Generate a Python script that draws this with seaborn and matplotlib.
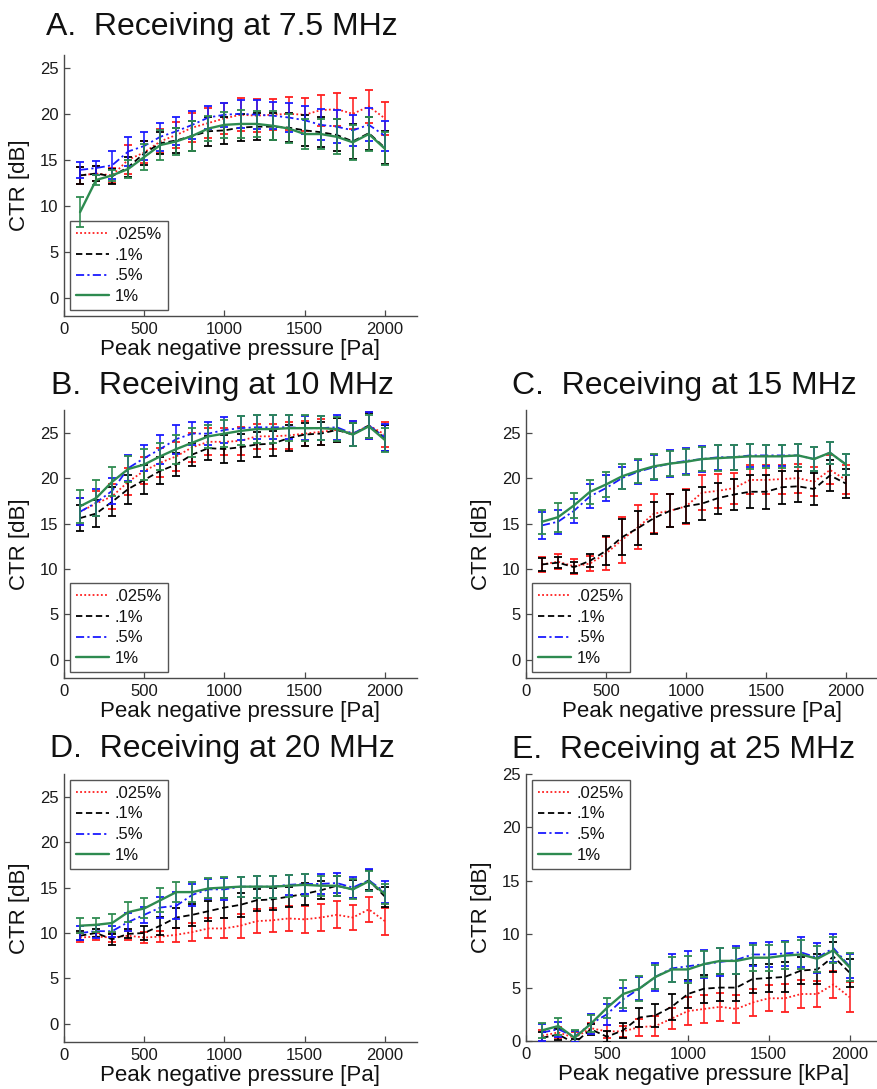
import matplotlib
matplotlib.use("Agg")
import matplotlib.pyplot as plt
import pandas as pd
import seaborn as sns

# Peak negative pressure steps
pressure = [100, 200, 300, 400, 500, 600, 700, 800, 900, 1000,
            1100, 1200, 1300, 1400, 1500, 1600, 1700, 1800, 1900, 2000]
concentrations = [".025%", ".1%", ".5%", "1%"]

# A. 7.5 MHz receive
A_CTR = {
    ".025%": [13.3, 13.5, 13.3, 15.0, 15.8, 17.0, 17.7, 18.5, 19.0, 19.5,
              19.9, 19.8, 19.9, 20.0, 19.9, 20.4, 20.5, 20.0, 20.8, 19.5],
    ".1%":   [13.3, 13.5, 13.2, 14.2, 15.7, 16.8, 17.1, 17.6, 18.1, 18.2,
              18.5, 18.6, 18.6, 18.5, 18.2, 18.0, 17.7, 17.0, 17.9, 16.3],
    ".5%":   [13.9, 14.1, 14.4, 15.9, 16.5, 17.5, 18.1, 18.8, 19.6, 19.9,
              20.0, 19.9, 19.8, 19.6, 19.3, 18.8, 18.6, 18.2, 18.8, 17.6],
    "1%":    [9.3, 12.8, 13.3, 14.0, 15.3, 16.6, 17.0, 17.6, 18.4, 18.8,
              18.9, 18.9, 18.7, 18.4, 17.8, 17.8, 17.5, 16.9, 17.8, 16.2],
}
A_ERR = {
    ".025%": [0.9, 0.8, 0.8, 1.6, 1.2, 1.3, 1.4, 1.6, 1.6, 1.7,
              1.8, 1.8, 1.7, 1.8, 1.8, 1.7, 1.8, 1.7, 1.8, 1.8],
    ".1%":   [0.9, 0.8, 0.8, 1.1, 1.3, 1.2, 1.4, 1.6, 1.6, 1.5,
              1.5, 1.5, 1.5, 1.6, 1.7, 1.6, 1.7, 1.9, 1.8, 1.8],
    ".5%":   [0.9, 0.8, 1.5, 1.6, 1.5, 1.5, 1.5, 1.5, 1.3, 1.3,
              1.5, 1.6, 1.5, 1.6, 1.5, 1.7, 1.8, 1.7, 1.8, 1.6],
    "1%":    [1.6, 0.5, 0.6, 1.0, 1.4, 1.6, 1.5, 1.6, 1.4, 1.4,
              1.5, 1.4, 1.6, 1.6, 1.6, 1.6, 1.9, 1.9, 1.8, 1.8],
}

# B. 10 MHz receive
B_CTR = {
    ".025%": [16.3, 17.2, 18.0, 19.6, 20.8, 21.7, 22.4, 23.4, 24.0, 24.0,
              24.1, 24.6, 24.6, 24.7, 24.9, 25.1, 25.3, 24.9, 25.8, 24.8],
    ".1%":   [15.6, 16.1, 17.4, 18.8, 19.8, 20.8, 21.5, 22.6, 23.3, 23.2,
              23.4, 23.7, 23.8, 24.4, 24.8, 24.9, 25.3, 24.8, 25.8, 24.4],
    ".5%":   [16.3, 17.3, 18.6, 21.1, 22.2, 23.2, 24.3, 24.9, 24.9, 25.3,
              25.5, 25.6, 25.6, 25.6, 25.5, 25.5, 25.6, 24.9, 25.8, 24.5],
    "1%":    [16.9, 17.8, 19.6, 21.0, 21.5, 22.4, 23.2, 23.9, 24.6, 24.9,
              25.2, 25.4, 25.4, 25.5, 25.5, 25.5, 25.4, 24.8, 25.7, 24.2],
}
B_ERR = {
    ".025%": [1.5, 1.4, 1.4, 1.5, 1.5, 1.6, 1.6, 1.6, 1.5, 1.5,
              1.5, 1.4, 1.4, 1.5, 1.4, 1.4, 1.3, 1.4, 1.5, 1.4],
    ".1%":   [1.4, 1.5, 1.6, 1.6, 1.6, 1.5, 1.3, 1.3, 1.3, 1.5,
              1.5, 1.4, 1.4, 1.4, 1.3, 1.3, 1.3, 1.3, 1.4, 1.4],
    ".5%":   [1.5, 1.5, 1.4, 1.4, 1.4, 1.6, 1.6, 1.3, 1.3, 1.4,
              1.3, 1.3, 1.3, 1.3, 1.3, 1.3, 1.4, 1.4, 1.5, 1.5],
    "1%":    [1.8, 2.0, 1.6, 1.4, 1.7, 1.5, 1.6, 1.6, 1.3, 1.5,
              1.6, 1.5, 1.5, 1.4, 1.4, 1.3, 1.3, 1.3, 1.3, 1.3],
}

# C. 15 MHz receive
C_CTR = {
    ".025%": [10.5, 10.8, 10.3, 10.6, 11.7, 13.2, 14.6, 16.1, 16.4, 16.9,
              18.4, 18.6, 18.9, 19.8, 19.8, 19.9, 20.0, 19.6, 20.9, 19.8],
    ".1%":   [10.5, 10.7, 10.2, 10.9, 12.0, 13.5, 14.5, 15.6, 16.4, 16.9,
              17.2, 17.8, 18.2, 18.5, 18.5, 19.0, 19.1, 18.8, 20.3, 19.4],
    ".5%":   [14.8, 15.2, 16.4, 18.0, 18.9, 20.0, 20.7, 21.2, 21.6, 21.9,
              22.1, 22.3, 22.3, 22.5, 22.5, 22.5, 22.5, 22.1, 22.8, 21.5],
    "1%":    [15.2, 15.7, 17.0, 18.5, 19.3, 20.2, 20.8, 21.3, 21.6, 21.8,
              22.1, 22.2, 22.3, 22.4, 22.4, 22.4, 22.5, 22.1, 22.8, 21.5],
}
C_ERR = {
    ".025%": [0.8, 0.8, 0.8, 0.8, 1.8, 2.5, 2.4, 2.1, 1.8, 1.9,
              1.9, 1.9, 1.7, 1.6, 1.6, 1.6, 1.6, 1.6, 1.6, 1.6],
    ".1%":   [0.7, 0.6, 0.6, 0.7, 1.6, 2.0, 1.9, 1.8, 1.8, 1.8,
              1.8, 1.7, 1.7, 1.8, 1.9, 1.8, 1.7, 1.8, 1.7, 1.6],
    ".5%":   [1.5, 1.3, 1.3, 1.3, 1.4, 1.2, 1.3, 1.4, 1.5, 1.4,
              1.4, 1.4, 1.4, 1.3, 1.2, 1.2, 1.3, 1.3, 1.2, 1.2],
    "1%":    [1.3, 1.6, 1.4, 1.3, 1.4, 1.4, 1.3, 1.4, 1.4, 1.4,
              1.3, 1.4, 1.4, 1.4, 1.3, 1.3, 1.3, 1.3, 1.2, 1.2],
}

# D. 20 MHz receive
D_CTR = {
    ".025%": [9.5, 9.6, 9.5, 9.7, 9.5, 9.6, 9.8, 10.1, 10.5, 10.5,
              10.8, 11.3, 11.4, 11.6, 11.5, 11.7, 12.0, 11.7, 12.6, 11.3],
    ".1%":   [9.7, 10.0, 9.3, 9.9, 10.0, 10.8, 11.7, 12.0, 12.4, 12.8,
              13.1, 13.6, 13.7, 14.0, 14.3, 14.7, 15.2, 14.8, 15.8, 14.0],
    ".5%":   [10.0, 10.2, 10.2, 11.2, 12.0, 12.8, 13.0, 14.2, 14.8, 14.8,
              15.1, 15.1, 15.1, 15.3, 15.4, 15.4, 15.5, 15.0, 15.8, 14.5],
    "1%":    [10.8, 10.9, 11.1, 12.3, 12.7, 13.6, 14.5, 14.5, 14.9, 15.0,
              15.1, 15.1, 15.1, 15.2, 15.3, 15.2, 15.2, 14.8, 15.7, 14.3],
}
D_ERR = {
    ".025%": [0.5, 0.4, 0.5, 0.5, 0.6, 0.6, 0.8, 1.0, 1.1, 1.1,
              1.3, 1.3, 1.3, 1.4, 1.5, 1.5, 1.5, 1.4, 1.4, 1.5],
    ".1%":   [0.5, 0.4, 0.6, 0.5, 0.8, 1.0, 1.1, 1.2, 1.1, 1.1,
              1.3, 1.2, 1.2, 1.1, 1.2, 1.0, 1.1, 1.0, 1.1, 1.1],
    ".5%":   [0.8, 0.7, 0.6, 1.0, 0.9, 1.2, 1.5, 1.2, 1.1, 1.2,
              1.1, 1.2, 1.2, 1.1, 1.1, 1.1, 1.1, 1.2, 1.2, 1.2],
    "1%":    [0.8, 0.8, 1.0, 1.1, 1.1, 1.3, 1.1, 1.1, 1.1, 1.2,
              1.1, 1.2, 1.2, 1.2, 1.2, 1.1, 1.1, 1.1, 1.1, 1.1],
}

# E. 25 MHz receive
E_CTR = {
    ".025%": [0.5, 0.8, 0.3, 1.2, 0.9, 0.9, 1.3, 1.4, 2.1, 2.8,
              3.0, 3.2, 3.0, 3.6, 4.0, 4.0, 4.4, 4.4, 5.3, 4.1],
    ".1%":   [0.3, 0.6, -0.2, 1.1, 0.4, 1.0, 2.2, 2.4, 3.2, 4.4,
              4.9, 5.0, 5.0, 5.8, 5.9, 6.0, 6.6, 6.7, 7.9, 6.4],
    ".5%":   [0.8, 1.1, 0.4, 1.6, 2.5, 3.9, 4.9, 6.0, 6.8, 7.0,
              7.2, 7.4, 7.6, 8.1, 8.1, 8.2, 8.3, 7.8, 8.7, 7.0],
    "1%":    [1.0, 1.4, 0.3, 1.6, 3.1, 4.4, 4.9, 6.0, 6.7, 6.7,
              7.2, 7.5, 7.5, 7.8, 7.8, 8.0, 8.1, 7.7, 8.5, 6.9],
}
E_ERR = {
    ".025%": [0.5, 0.5, 0.5, 0.5, 0.6, 0.5, 0.8, 0.9, 1.0, 1.3,
              1.3, 1.3, 1.3, 1.3, 1.2, 1.3, 1.3, 1.2, 1.3, 1.4],
    ".1%":   [0.5, 0.5, 0.4, 0.5, 0.5, 0.7, 0.9, 1.1, 1.2, 1.3,
              1.3, 1.3, 1.3, 1.3, 1.3, 1.4, 1.3, 1.4, 1.4, 1.3],
    ".5%":   [0.8, 0.7, 0.5, 0.9, 1.0, 1.1, 1.1, 1.3, 1.3, 1.4,
              1.3, 1.3, 1.3, 1.1, 1.2, 1.2, 1.4, 1.4, 1.3, 1.1],
    "1%":    [0.7, 0.8, 0.7, 0.8, 0.9, 1.3, 1.2, 1.1, 1.2, 1.3,
              1.2, 1.2, 1.2, 1.2, 1.2, 1.3, 1.4, 1.2, 1.2, 1.3],
}

sns.set_theme(style="white")
plt.rcParams["font.family"] = ["Liberation Sans", "DejaVu Sans"]
plt.rcParams["text.color"] = "#111111"
plt.rcParams["axes.labelcolor"] = "#111111"

SERIES_STYLE = {
    ".025%": dict(color="#ff1f1f", linestyle=(0, (1.0, 1.3)), lw=1.3),
    ".1%":   dict(color="#000000", linestyle=(0, (3.5, 2.0)), lw=1.3),
    ".5%":   dict(color="#1a1aff", linestyle=(0, (4.5, 1.8, 1.2, 1.8)), lw=1.3),
    "1%":    dict(color="#2e8b50", linestyle="-", lw=1.7),
}

W, H = 877, 1089
fig = plt.figure(figsize=(W / 100, H / 100), dpi=100)


def px_rect(left, top, right, bottom):
    return [left / W, 1 - bottom / H, (right - left) / W, (bottom - top) / H]


panels = [
    dict(title="A.  Receiving at 7.5 MHz", tx=46, tb=35, rect=(64, 55, 417, 316),
         ylim=(-2, 26.4), ctr=A_CTR, err=A_ERR, loc="lower left",
         xlabel="Peak negative pressure [Pa]"),
    dict(title="B.  Receiving at 10 MHz", tx=51, tb=394, rect=(64, 410, 417, 678),
         ylim=(-2, 27.5), ctr=B_CTR, err=B_ERR, loc="lower left",
         xlabel="Peak negative pressure [Pa]"),
    dict(title="C.  Receiving at 15 MHz", tx=512, tb=394, rect=(526, 410, 878, 678),
         ylim=(-2, 27.5), ctr=C_CTR, err=C_ERR, loc="lower left",
         xlabel="Peak negative pressure [Pa]"),
    dict(title="D.  Receiving at 20 MHz", tx=50, tb=757, rect=(64, 774, 417, 1042),
         ylim=(-2, 27.5), ctr=D_CTR, err=D_ERR, loc="upper left",
         xlabel="Peak negative pressure [Pa]"),
    dict(title="E.  Receiving at 25 MHz", tx=512, tb=758, rect=(526, 774, 882, 1041),
         ylim=(0, 25), ctr=E_CTR, err=E_ERR, loc="upper left",
         xlabel="Peak negative pressure [kPa]"),
]

AXIS_GREY = "#4a4a4a"

for p in panels:
    ax = fig.add_axes(px_rect(*p["rect"]))
    for i, conc in enumerate(concentrations):
        st = SERIES_STYLE[conc]
        ax.errorbar(pressure, p["ctr"][conc], yerr=p["err"][conc], fmt="none",
                    ecolor=st["color"], elinewidth=1.15, capsize=3, capthick=1.3,
                    zorder=2 + 2 * i)
        df = pd.DataFrame({"pressure": pressure, "ctr": p["ctr"][conc]})
        sns.lineplot(data=df, x="pressure", y="ctr", ax=ax, color=st["color"],
                     linestyle=st["linestyle"], lw=st["lw"], label=conc,
                     errorbar=None, zorder=3 + 2 * i)

    ax.set_xlim(0, 2200)
    ax.set_ylim(*p["ylim"])
    ax.set_xticks([0, 500, 1000, 1500, 2000])
    ax.set_yticks([0, 5, 10, 15, 20, 25])
    sns.despine(ax=ax)
    for side in ("left", "bottom"):
        ax.spines[side].set_color(AXIS_GREY)
        ax.spines[side].set_linewidth(1.0)
    ax.tick_params(axis="both", direction="in", length=4, width=0.9,
                   color=AXIS_GREY, labelsize=12, labelcolor="#1a1a1a", pad=4,
                   left=True, bottom=True)
    ax.set_xlabel(p["xlabel"], fontsize=16, labelpad=2)
    ax.set_ylabel("CTR [dB]", fontsize=16, labelpad=7)

    leg = ax.legend(loc=p["loc"], frameon=True, fancybox=False, framealpha=1,
                    edgecolor="#555555", fontsize=12, handlelength=2.0,
                    handletextpad=0.35, labelspacing=0.35, borderpad=0.35,
                    borderaxespad=0.35)
    leg.get_frame().set_linewidth(1.0)

    fig.text(p["tx"] / W, 1 - p["tb"] / H, p["title"], fontsize=23,
             ha="left", va="baseline")

fig.savefig("out.png", dpi=100)
